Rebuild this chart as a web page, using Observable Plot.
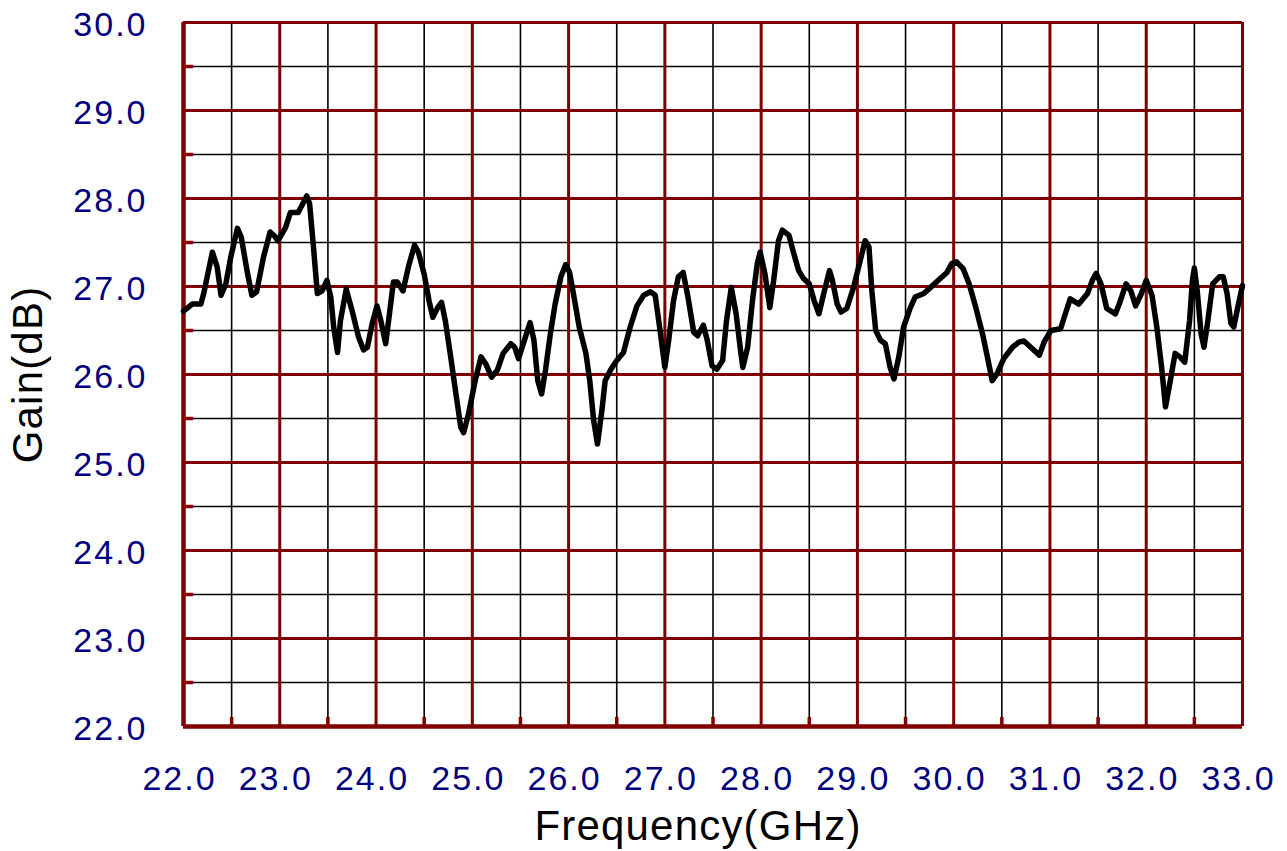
<!DOCTYPE html>
<html>
<head>
<meta charset="utf-8">
<script src="https://cdn.jsdelivr.net/npm/d3@7"></script>
<script src="https://cdn.jsdelivr.net/npm/@observablehq/plot@0.6"></script>
<style>
  html, body { margin: 0; padding: 0; background: #fff; }
  #chart svg { font-family: "Liberation Sans", Arial, sans-serif; display: block; }
  #chart svg g[aria-label="x-axis tick label"] text,
  #chart svg g[aria-label="y-axis tick label"] text { letter-spacing: 2px; }
  #chart svg g[aria-label="text"] text { letter-spacing: 1.2px; }
</style>
</head>
<body>
<div id="chart"></div>
<script>
// Frequency (GHz) and gain (dB)
const freq = [
  22.00,22.09,22.18,22.21,22.30,22.35,22.39,22.44,22.49,22.56,22.60,22.66,22.71,22.76,22.83,22.90,22.94,22.98,
  23.06,23.11,23.19,23.23,23.28,23.31,23.35,23.39,23.44,23.49,23.53,23.56,23.60,23.63,23.69,23.75,23.82,23.87,23.91,23.96,
  24.01,24.05,24.10,24.13,24.18,24.22,24.28,24.34,24.40,24.44,24.50,24.55,24.59,24.64,24.68,24.72,24.77,24.83,24.88,24.91,24.96,
  25.03,25.09,25.14,25.20,25.26,25.32,25.40,25.44,25.48,25.53,25.60,25.64,25.68,25.72,25.76,25.81,25.86,25.92,25.97,
  26.01,26.05,26.11,26.18,26.22,26.26,26.30,26.35,26.38,26.44,26.50,26.57,26.64,26.71,26.78,26.85,26.90,26.95,
  27.00,27.04,27.09,27.14,27.19,27.24,27.30,27.34,27.40,27.44,27.49,27.54,27.60,27.64,27.69,27.74,27.79,27.81,27.86,27.91,27.96,27.99,
  28.04,28.09,28.13,28.18,28.22,28.29,28.33,28.39,28.44,28.50,28.55,28.60,28.65,28.71,28.74,28.79,28.83,28.89,28.96,
  29.03,29.08,29.12,29.15,29.19,29.24,29.29,29.34,29.38,29.43,29.48,29.55,29.60,29.69,29.78,29.86,29.93,29.98,
  30.03,30.10,30.16,30.23,30.30,30.35,30.40,30.45,30.52,30.61,30.68,30.73,30.80,30.89,30.94,
  31.01,31.11,31.16,31.21,31.30,31.39,31.44,31.48,31.53,31.59,31.68,31.72,31.79,31.84,31.89,31.95,
  32.00,32.06,32.11,32.16,32.20,32.25,32.30,32.35,32.40,32.45,32.48,32.50,32.53,32.57,32.60,32.64,32.69,32.76,32.80,32.84,32.88,32.91,32.95,
  33.00
];
const gain = [
  26.72,26.80,26.80,26.92,27.39,27.22,26.90,27.03,27.33,27.66,27.56,27.18,26.90,26.94,27.33,27.62,27.58,27.52,
  27.67,27.84,27.84,27.92,28.03,27.94,27.45,26.92,26.95,27.07,26.88,26.54,26.25,26.61,26.97,26.73,26.42,26.28,26.31,26.58,
  26.78,26.61,26.35,26.61,27.05,27.05,26.95,27.24,27.47,27.39,27.14,26.84,26.65,26.76,26.82,26.61,26.24,25.78,25.40,25.34,25.55,
  25.93,26.20,26.12,25.97,26.05,26.24,26.35,26.31,26.18,26.35,26.59,26.39,25.93,25.78,26.05,26.46,26.80,27.11,27.25,
  27.16,26.92,26.54,26.24,25.93,25.48,25.21,25.63,25.93,26.06,26.16,26.25,26.54,26.78,26.90,26.94,26.90,26.50,
  26.08,26.39,26.84,27.11,27.16,26.88,26.48,26.44,26.56,26.39,26.10,26.06,26.16,26.61,26.99,26.69,26.24,26.08,26.31,26.84,27.26,27.39,
  27.14,26.76,27.07,27.52,27.64,27.58,27.41,27.18,27.09,27.03,26.84,26.69,26.92,27.18,27.07,26.80,26.71,26.75,26.99,
  27.30,27.52,27.45,26.95,26.50,26.39,26.35,26.08,25.95,26.20,26.54,26.76,26.88,26.92,27.01,27.09,27.16,27.26,
  27.28,27.20,27.03,26.76,26.46,26.20,25.93,26.01,26.18,26.31,26.37,26.38,26.31,26.22,26.37,
  26.50,26.52,26.69,26.86,26.80,26.92,27.07,27.15,27.03,26.75,26.69,26.80,27.03,26.95,26.78,26.92,
  27.07,26.90,26.54,26.08,25.63,25.93,26.24,26.20,26.14,26.61,27.07,27.21,26.95,26.46,26.31,26.61,27.03,27.11,27.11,26.92,26.58,26.54,26.76,
  27.01
];

const xDomain = [22, 33];
const yDomain = [22, 30];
const xMajor = d3.range(22, 33.001, 1);
const xMinor = d3.range(22.5, 33, 1);
const yMajor = d3.range(22, 30.001, 1);
const yMinor = d3.range(22.5, 30, 1);
const xTickLabels = xMajor;
const yTickLabels = yMajor;

const data = freq.map((f, i) => ({freq: f, gain: gain[i]}));

const RED = "#800000";
const NAVY = "#000080";

const chart = Plot.plot({
  width: 1287,
  height: 851,
  marginLeft: 183,
  marginRight: 45,
  marginTop: 22,
  marginBottom: 125,
  x: {domain: xDomain},
  y: {domain: yDomain},
  style: {background: "white", overflow: "visible"},
  marks: [
    // minor grid (black)
    Plot.ruleX(xMinor, {stroke: "black", strokeWidth: 1.6}),
    Plot.ruleY(yMinor, {stroke: "black", strokeWidth: 1.6}),
    // major grid (dark red)
    Plot.ruleX(xMajor, {stroke: RED, strokeWidth: 3}),
    Plot.ruleY(yMajor, {stroke: RED, strokeWidth: 3}),
    // heavier left & bottom frame
    Plot.ruleX([xDomain[0]], {stroke: RED, strokeWidth: 4.5}),
    Plot.ruleY([yDomain[0]], {stroke: RED, strokeWidth: 4.5}),
    // inward minor ticks
    Plot.ruleY(yMinor, {x1: xDomain[0], x2: xDomain[0], insetRight: -10, stroke: RED, strokeWidth: 3.5}),
    Plot.ruleX(xMinor, {y1: yDomain[0], y2: yDomain[0], insetBottom: 9, stroke: RED, strokeWidth: 3.5}),
    // tick labels
    Plot.axisX(xTickLabels, {
      tickSize: 0, tickPadding: 39, tickFormat: d3.format(".1f"),
      fontSize: 34, color: NAVY, dx: -4, label: null
    }),
    Plot.axisY(yTickLabels, {
      tickSize: 0, tickPadding: 36, tickFormat: d3.format(".1f"),
      fontSize: 34, color: NAVY, dy: 3, label: null
    }),
    // the curve
    Plot.line(data, {x: "freq", y: "gain", stroke: "black", strokeWidth: 5.5, strokeLinejoin: "round", strokeLinecap: "round"}),
    // axis titles
    Plot.text(["Gain(dB)"], {frameAnchor: "left", rotate: -90, dx: -155, fontSize: 42, fill: "black", textAnchor: "middle"}),
    Plot.text(["Frequency(GHz)"], {frameAnchor: "bottom", lineAnchor: "top", dx: -15, dy: 84, fontSize: 42, fill: "black", textAnchor: "middle"})
  ]
});
document.getElementById("chart").appendChild(chart);
</script>
</body>
</html>
